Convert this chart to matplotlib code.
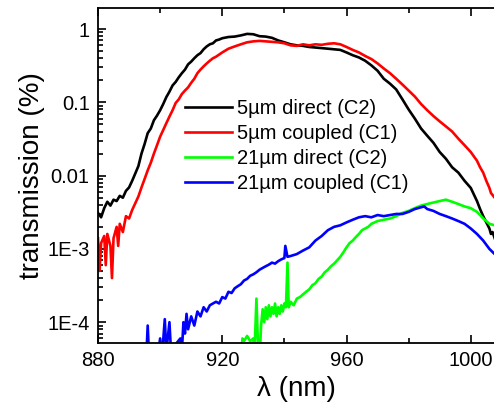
import matplotlib
matplotlib.use("Agg")
import matplotlib.pyplot as plt
from matplotlib.ticker import LogLocator, MultipleLocator, FixedFormatter, FixedLocator

plt.rcParams['font.family'] = ['Liberation Sans', 'DejaVu Sans']

# 5um direct (C2) - black
wl_5d = [880, 881, 882, 883, 884, 885, 886, 887, 888, 889, 890, 891, 892, 893, 894,
         895, 896, 897, 898, 899, 900, 901, 902, 903, 904, 905, 906, 907, 908, 909,
         910, 911, 912, 913, 914, 915, 916, 917, 918, 919, 920, 922, 924, 926, 928,
         930, 932, 934, 936, 938, 940, 942, 944, 946, 948, 950, 952, 954, 956, 958,
         960, 962, 964, 966, 968, 970, 972, 974, 976, 978, 980, 982, 984, 986, 988,
         990, 992, 994, 996, 998, 1000, 1002, 1003, 1004, 1005, 1006, 1006.5, 1007, 1007.7]
tr_5d = [0.0031, 0.0027, 0.0036, 0.0044, 0.0039, 0.0047, 0.0045, 0.0053, 0.0050, 0.0062,
         0.0069, 0.0085, 0.0107, 0.0135, 0.0200, 0.0270, 0.038, 0.044, 0.057, 0.066,
         0.078, 0.095, 0.118, 0.140, 0.170, 0.190, 0.220, 0.250, 0.280, 0.330,
         0.360, 0.400, 0.440, 0.470, 0.530, 0.580, 0.620, 0.640, 0.700, 0.720,
         0.750, 0.780, 0.790, 0.820, 0.860, 0.850, 0.800, 0.790, 0.760, 0.700,
         0.660, 0.620, 0.600, 0.590, 0.570, 0.560, 0.550, 0.540, 0.530, 0.520,
         0.480, 0.440, 0.410, 0.370, 0.320, 0.270, 0.210, 0.180, 0.150, 0.110,
         0.080, 0.060, 0.044, 0.035, 0.028, 0.021, 0.017, 0.013, 0.011, 0.0085,
         0.0068, 0.0045, 0.0035, 0.0028, 0.0023, 0.0019, 0.0016, 0.0017, 0.0014]

# 5um coupled (C1) - red
wl_5c = [880, 880.5, 881, 882, 882.5, 883, 884, 884.5, 885, 886, 886.5, 887, 888, 889, 890,
         891, 892, 893, 894, 895, 896, 897, 898, 899, 900, 901, 902, 903, 904, 905,
         906, 907, 908, 909, 910, 911, 912, 913, 914, 915, 916, 917, 918, 920, 922,
         924, 926, 928, 930, 932, 934, 936, 938, 940, 942, 944, 946, 948, 950, 952,
         954, 956, 958, 960, 962, 964, 966, 968, 970, 972, 974, 976, 978, 980, 982,
         984, 986, 988, 990, 992, 994, 996, 998, 1000, 1002, 1003, 1004, 1005, 1006,
         1006.5, 1007.7]
tr_5c = [0.0014, 0.0005, 0.0012, 0.0015, 0.0006, 0.0016, 0.0011, 0.0004, 0.0014, 0.0020,
         0.0011, 0.0022, 0.0017, 0.0028, 0.0026, 0.0034, 0.0042, 0.0052, 0.0069, 0.0090,
         0.0118, 0.0150, 0.020, 0.026, 0.034, 0.042, 0.052, 0.064, 0.078, 0.098,
         0.110, 0.130, 0.145, 0.160, 0.185, 0.210, 0.250, 0.280, 0.310, 0.340,
         0.370, 0.400, 0.420, 0.480, 0.540, 0.580, 0.620, 0.660, 0.680, 0.690,
         0.680, 0.670, 0.660, 0.640, 0.600, 0.590, 0.620, 0.600, 0.620, 0.610,
         0.630, 0.640, 0.620, 0.570, 0.520, 0.480, 0.430, 0.390, 0.340, 0.290,
         0.250, 0.210, 0.175, 0.145, 0.120, 0.095, 0.078, 0.065, 0.055, 0.047,
         0.040, 0.032, 0.026, 0.021, 0.016, 0.013, 0.011, 0.0085, 0.0068, 0.0058, 0.0050]

# 21um direct (C2) - green
wl_21d = [926, 926.5, 927, 928, 929, 930, 930.3, 931, 931.5, 932, 932.5, 933, 933.5, 934,
          934.5, 935, 935.5, 936, 936.5, 937, 937.5, 938, 938.5, 939, 939.5, 940, 940.5,
          941, 941.4, 942, 943, 944, 945, 946, 947, 948, 949, 950, 951, 952, 953, 954,
          955, 956, 957, 958, 959, 960, 961, 962, 963, 964, 965, 966, 967, 968, 970,
          972, 974, 976, 978, 980, 982, 984, 986, 988, 990, 992, 994, 996, 998, 1000,
          1002, 1003, 1004, 1005, 1006, 1007.7]
tr_21d = [3e-5, 6e-5, 5.5e-5, 6.5e-5, 5.5e-5, 6e-5, 3e-5, 2.1e-4, 5e-5, 3e-5, 9e-5, 1.5e-4,
          1e-4, 1.6e-4, 1.1e-4, 1.7e-4, 1.2e-4, 1.6e-4, 1.3e-4, 1.8e-4, 1.2e-4, 1.6e-4,
          1.3e-4, 1.7e-4, 1.4e-4, 1.8e-4, 1.6e-4, 6.5e-4, 1.6e-4, 1.9e-4, 1.7e-4, 2.1e-4,
          2.2e-4, 2.4e-4, 2.6e-4, 2.8e-4, 3.2e-4, 3.4e-4, 3.9e-4, 4.2e-4, 4.8e-4, 5.2e-4,
          5.8e-4, 6.3e-4, 7.0e-4, 7.8e-4, 9.0e-4, 1.05e-3, 1.2e-3, 1.3e-3, 1.45e-3, 1.6e-3,
          1.8e-3, 1.9e-3, 2.0e-3, 2.2e-3, 2.4e-3, 2.5e-3, 2.6e-3, 2.8e-3, 3.1e-3, 3.3e-3,
          3.6e-3, 3.9e-3, 4.1e-3, 4.3e-3, 4.5e-3, 4.7e-3, 4.4e-3, 4.1e-3, 3.8e-3, 3.6e-3,
          3.2e-3, 2.9e-3, 2.6e-3, 2.4e-3, 2.2e-3, 2.1e-3]

# 21um coupled (C1) - blue
wl_21c = [895.5, 896, 896.5, 899, 900, 900.5, 901.5, 902, 903, 903.5, 905, 906.5, 907, 907.5,
          908, 908.5, 909, 910, 911, 912, 913, 914, 915, 916, 917, 918, 919, 920, 921, 922,
          923, 924, 925, 926, 927, 928, 929, 930, 931, 932, 933, 934, 935, 936, 937, 938,
          939, 940, 940.3, 941, 942, 944, 946, 948, 950, 952, 954, 956, 958, 960, 962,
          964, 966, 968, 970, 972, 974, 976, 978, 980, 982, 984, 985, 986, 988, 990, 992,
          994, 996, 998, 1000, 1002, 1004, 1006, 1007.7]
tr_21c = [3e-5, 9e-5, 3e-5, 3e-5, 6e-5, 3e-5, 1.1e-4, 4e-5, 1.0e-4, 4e-5, 5e-5, 6e-5, 4e-5,
          1.0e-4, 7e-5, 1.3e-4, 8e-5, 1.2e-4, 9e-5, 1.4e-4, 1.2e-4, 1.6e-4, 1.4e-4, 1.7e-4,
          1.8e-4, 1.9e-4, 1.8e-4, 2.2e-4, 2.1e-4, 2.6e-4, 2.5e-4, 2.9e-4, 3.1e-4, 3.3e-4,
          3.7e-4, 3.9e-4, 4.3e-4, 4.5e-4, 4.8e-4, 5.2e-4, 5.5e-4, 5.8e-4, 6.1e-4, 6.5e-4,
          6.3e-4, 6.8e-4, 7.2e-4, 7.5e-4, 1.1e-3, 7.8e-4, 8e-4, 8.5e-4, 9.5e-4, 1.05e-3,
          1.3e-3, 1.5e-3, 1.8e-3, 2.0e-3, 2.1e-3, 2.3e-3, 2.5e-3, 2.7e-3, 2.8e-3, 2.7e-3,
          2.9e-3, 2.8e-3, 2.9e-3, 3.0e-3, 3.0e-3, 3.2e-3, 3.5e-3, 3.7e-3, 3.8e-3, 3.5e-3,
          3.3e-3, 3.0e-3, 2.8e-3, 2.6e-3, 2.4e-3, 2.2e-3, 1.9e-3, 1.6e-3, 1.3e-3, 1.0e-3, 8.5e-4]

series = [(wl_5d, tr_5d, 'black', '5µm direct (C2)'),
          (wl_5c, tr_5c, '#ff0000', '5µm coupled (C1)'),
          (wl_21d, tr_21d, '#00ff00', '21µm direct (C2)'),
          (wl_21c, tr_21c, '#0000ff', '21µm coupled (C1)')]

y_ticks = [1e-4, 1e-3, 0.01, 0.1, 1]
y_labels = ['1E-4', '1E-3', '0.01', '0.1', '1']

fig = plt.figure(figsize=(4.94, 4.07), dpi=100)
ax = fig.add_axes([98 / 494, 1 - 343 / 407, 1 - 98 / 494 + 0.002, (343 - 8) / 407])

for wl, tr, col, lab in series:
    ax.plot(wl, tr, color=col, lw=1.9, label=lab)

ax.set_yscale('log')
ax.set_xlim(880, 1007.8)
ax.set_ylim(5.2e-5, 1.94)

ax.xaxis.set_major_locator(MultipleLocator(40))
ax.xaxis.set_minor_locator(MultipleLocator(20))
ax.yaxis.set_major_locator(FixedLocator(y_ticks))
ax.yaxis.set_major_formatter(FixedFormatter(y_labels))
ax.yaxis.set_minor_locator(LogLocator(base=10, subs=range(2, 10)))
ax.yaxis.set_minor_formatter(plt.NullFormatter())

ax.tick_params(which='both', direction='in', top=True, right=False, labelsize=14.5,
               width=1.2, pad=6)
ax.tick_params(which='major', length=6)
ax.tick_params(which='minor', length=3.5)
for side in ['left', 'bottom', 'top']:
    ax.spines[side].set_linewidth(1.3)
ax.spines['right'].set_visible(False)

ax.set_xlabel('λ (nm)', fontsize=20, labelpad=4)
ax.set_ylabel('transmission (%)', fontsize=20, labelpad=2)

ax.legend(loc='upper left', bbox_to_anchor=(0.2, 0.753), frameon=False, fontsize=14.5,
          handlelength=2.3, handletextpad=0.25, labelspacing=0.3, borderaxespad=0)

fig.savefig('out.png', dpi=100)
